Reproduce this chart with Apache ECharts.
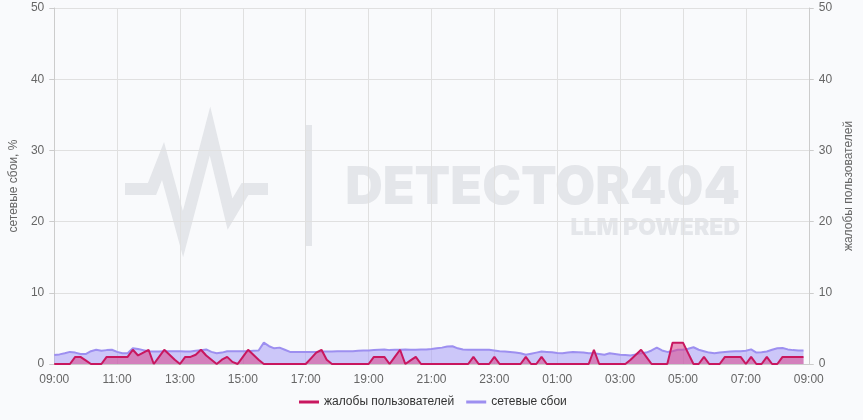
<!DOCTYPE html>
<html>
<head>
<meta charset="utf-8">
<script src="https://cdn.jsdelivr.net/npm/echarts@6/dist/echarts.min.js"></script>
<style>
  html, body { margin: 0; padding: 0; background: #f9fafc; }
  #chart { width: 863px; height: 420px; }
</style>
</head>
<body>
<div id="chart"></div>
<script>
// time axis: 09:00 .. 09:00 next day, 10 min step
var times = [];
for (var m = 0; m <= 1440; m += 10) {
  var h = (9 + Math.floor(m / 60)) % 24;
  var mm = m % 60;
  times.push((h < 10 ? "0" : "") + h + ":" + (mm < 10 ? "0" : "") + mm);
}

// сетевые сбои, % (left axis)
var networkFailures = [
  1.26, 1.35, 1.5, 1.7, 1.6, 1.4, 1.4, 1.8, 2.0, 1.85,
  1.95, 2.0, 1.7, 1.5, 1.5, 2.2, 2.1, 1.95, 1.8, 1.75,
  1.75, 1.8, 1.8, 1.8, 1.8, 1.75, 1.75, 1.85, 1.95, 2.05,
  1.7, 1.5, 1.6, 1.8, 1.8, 1.8, 1.8, 1.8, 1.85, 1.9,
  3.0, 2.5, 2.2, 2.3, 2.0, 1.7, 1.7, 1.7, 1.7, 1.7,
  1.7, 1.75, 1.75, 1.75, 1.8, 1.8, 1.8, 1.8, 1.85, 1.9,
  1.9, 1.95, 2.0, 2.05, 1.95, 2.0, 2.0, 2.05, 2.0, 2.0,
  2.05, 2.05, 2.1, 2.2, 2.3, 2.45, 2.5, 2.2, 2.05, 2.0,
  2.0, 2.0, 2.0, 2.0, 1.9, 1.8, 1.75, 1.7, 1.6, 1.5,
  1.3, 1.45, 1.6, 1.75, 1.7, 1.65, 1.55, 1.5, 1.6, 1.7,
  1.65, 1.6, 1.5, 1.5, 1.4, 1.3, 1.5, 1.4, 1.3, 1.25,
  1.2, 1.35, 1.5, 1.6, 1.9, 2.3, 1.9, 1.7, 1.8, 2.0,
  2.0, 2.15, 2.35, 2.0, 1.8, 1.6, 1.5, 1.6, 1.7, 1.75,
  1.8, 1.8, 1.85, 2.05, 1.6, 1.65, 1.75, 2.0, 2.2, 2.25,
  2.05, 1.95, 1.9, 1.9
];

// жалобы пользователей (right axis)
var userComplaints = [
  0, 0, 0, 0, 1, 1, 0.5, 0, 0, 0,
  1, 1, 1, 1, 1, 2, 1.2, 1.6, 2, 0,
  1, 2, 1.3, 0.6, 0, 1, 1, 1.3, 2, 1.2,
  0.6, 0, 0.6, 1, 0.3, 0, 1, 2, 1.3, 0.6,
  0, 0, 0, 0, 0, 0, 0, 0, 0, 0.8,
  1.6, 2, 0.6, 0, 0, 0, 0, 0, 0, 0,
  0, 1, 1, 1, 0, 1, 2, 0, 0.5, 1,
  0, 0, 0, 0, 0, 0, 0, 0, 0, 0,
  1, 0, 0, 0, 1, 0, 0, 0, 0, 0,
  1, 0, 0, 1, 0, 0, 0, 0, 0, 0,
  0, 0, 0, 2, 0, 0, 0, 0, 0, 0,
  0.6, 1.3, 2, 1, 0, 0, 0, 0, 3, 3,
  3, 1.5, 0, 0, 1, 0, 0, 0, 1, 1,
  1, 1, 0, 1, 0, 0, 1, 0, 0, 1,
  1, 1, 1, 1
];

var yTicks = { min: 0, max: 50, interval: 10 };

var chart = echarts.init(document.getElementById("chart"));

var axisGray = "#ccc";
var labelGray = "#666";
var markGray = "#e4e6ea";

var option = {
  backgroundColor: "#f9fafc",
  animation: false,
  textStyle: { fontFamily: "'Liberation Sans', Arial, sans-serif" },
  grid: { left: 54, right: 53, top: 8, bottom: 56 },
  legend: {
    left: 294,
    bottom: 7,
    icon: "rect",
    itemWidth: 20,
    itemHeight: 3,
    itemGap: 12,
    textStyle: { color: "#333", fontSize: 12 },
    data: ["жалобы пользователей", "сетевые сбои"]
  },
  // watermark behind the plot
  graphic: [
    {
      type: "polyline",
      z: -10,
      silent: true,
      shape: {
        points: [[125, 189], [152, 189], [163, 161], [183, 234], [210, 131], [230, 214], [245, 189], [268, 189]]
      },
      style: { fill: null, stroke: markGray, lineWidth: 12, lineJoin: "miter" }
    },
    {
      type: "rect",
      z: -10,
      silent: true,
      shape: { x: 306, y: 125, width: 6, height: 121 },
      style: { fill: markGray }
    },
    {
      type: "text",
      z: -10,
      silent: true,
      style: {
        x: 740, y: 188, text: "DETECTOR404", align: "right", verticalAlign: "middle",
        font: "900 52px Inter, 'Noto Sans', sans-serif", fill: markGray
      }
    },
    {
      type: "text",
      z: -10,
      silent: true,
      style: {
        x: 740, y: 228, text: "LLM POWERED", align: "right", verticalAlign: "middle",
        font: "900 23px Inter, 'Noto Sans', sans-serif", fill: markGray
      }
    }
  ],
  xAxis: {
    type: "category",
    boundaryGap: false,
    data: times,
    axisLine: { lineStyle: { color: axisGray } },
    axisTick: { show: false },
    axisLabel: { interval: 11, color: labelGray, fontSize: 12, margin: 10 },
    splitLine: { show: true, interval: 11, lineStyle: { color: "#e0e0e0" } }
  },
  yAxis: [
    {
      type: "value",
      min: yTicks.min,
      max: yTicks.max,
      interval: yTicks.interval,
      name: "сетевые сбои, %",
      nameLocation: "middle",
      nameGap: 28,
      nameTextStyle: { color: labelGray, fontSize: 12 },
      axisLine: { show: true, lineStyle: { color: axisGray } },
      axisTick: { show: true, lineStyle: { color: axisGray } },
      axisLabel: { color: labelGray, fontSize: 12, margin: 10 },
      splitLine: { lineStyle: { color: "#e0e0e0" } }
    },
    {
      type: "value",
      min: yTicks.min,
      max: yTicks.max,
      interval: yTicks.interval,
      name: "жалобы пользователей",
      nameLocation: "middle",
      nameGap: 34,
      nameTextStyle: { color: labelGray, fontSize: 12 },
      axisLine: { show: true, lineStyle: { color: axisGray } },
      axisTick: { show: true, lineStyle: { color: axisGray } },
      axisLabel: { color: labelGray, fontSize: 12, margin: 10 },
      splitLine: { show: false }
    }
  ],
  series: [
    {
      name: "сетевые сбои",
      type: "line",
      yAxisIndex: 0,
      symbol: "none",
      z: 2,
      data: networkFailures,
      lineStyle: { color: "#9d8ff0", width: 2 },
      itemStyle: { color: "#9d8ff0" },
      areaStyle: { color: "#a89cf5", opacity: 0.55 }
    },
    {
      name: "жалобы пользователей",
      type: "line",
      yAxisIndex: 1,
      symbol: "none",
      z: 3,
      data: userComplaints,
      lineStyle: { color: "#c8175f", width: 2 },
      itemStyle: { color: "#c8175f" },
      areaStyle: { color: "#d8468a", opacity: 0.55 }
    }
  ]
};

chart.setOption(option);
</script>
</body>
</html>
